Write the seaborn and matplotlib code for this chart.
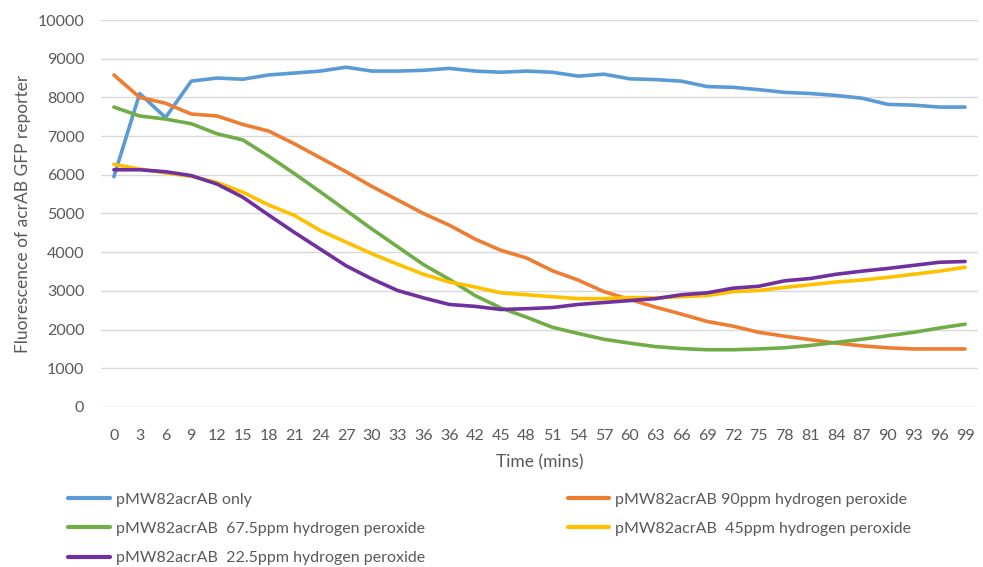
import pandas as pd
import seaborn as sns
import matplotlib.pyplot as plt

# x axis is categorical in the original (note the repeated "36" label)
time_labels = ['0', '3', '6', '9', '12', '15', '18', '21', '24', '27', '30', '33', '36', '36',
               '42', '45', '48', '51', '54', '57', '60', '63', '66', '69', '72', '75', '78',
               '81', '84', '87', '90', '93', '96', '99']

only = [5950, 8100, 7480, 8420, 8500, 8470, 8580, 8630, 8680, 8780, 8680, 8680, 8700, 8750,
        8680, 8650, 8680, 8650, 8550, 8600, 8480, 8460, 8420, 8280, 8260, 8200, 8130, 8100,
        8050, 7980, 7820, 7800, 7750, 7750]
ppm90 = [8580, 8000, 7850, 7570, 7520, 7300, 7130, 6800, 6440, 6080, 5700, 5350, 5000, 4700,
         4340, 4050, 3850, 3520, 3280, 2980, 2780, 2580, 2400, 2210, 2090, 1930, 1830, 1740,
         1650, 1580, 1530, 1500, 1500, 1500]
ppm675 = [7750, 7520, 7440, 7320, 7060, 6900, 6480, 6030, 5560, 5080, 4600, 4140, 3680, 3300,
          2880, 2560, 2320, 2060, 1900, 1750, 1650, 1560, 1510, 1480, 1480, 1500, 1530, 1590,
          1670, 1750, 1840, 1930, 2040, 2140]
ppm45 = [6270, 6150, 6050, 5960, 5800, 5550, 5220, 4950, 4560, 4260, 3960, 3690, 3430, 3230,
         3100, 2950, 2900, 2850, 2800, 2800, 2830, 2820, 2850, 2880, 2980, 3010, 3090, 3160,
         3230, 3280, 3350, 3430, 3510, 3610]
ppm225 = [6130, 6130, 6080, 5980, 5760, 5420, 4960, 4510, 4080, 3650, 3310, 3010, 2820, 2650,
          2600, 2520, 2540, 2570, 2650, 2700, 2750, 2800, 2900, 2950, 3070, 3120, 3260, 3320,
          3430, 3510, 3580, 3660, 3740, 3760]

names = ['pMW82acrAB only',
         'pMW82acrAB 90ppm hydrogen peroxide',
         'pMW82acrAB  67.5ppm hydrogen peroxide',
         'pMW82acrAB  45ppm hydrogen peroxide',
         'pMW82acrAB  22.5ppm hydrogen peroxide']
colors = ['#5B9BD5', '#ED7D31', '#70AD47', '#FFC000', '#7030A0']

frames = []
for name, vals in zip(names, [only, ppm90, ppm675, ppm45, ppm225]):
    frames.append(pd.DataFrame({'pos': range(len(time_labels)), 'value': vals, 'series': name}))
df = pd.concat(frames, ignore_index=True)

sns.set_theme(style='white')
plt.rcParams['font.family'] = ['Lato', 'DejaVu Sans']
txt = '#595959'

fig = plt.figure(figsize=(9.83, 5.67), dpi=100)
ax = fig.add_axes([101 / 983, 1 - 407 / 567, 877 / 983, 387 / 567])

sns.lineplot(data=df, x='pos', y='value', hue='series', hue_order=names,
             palette=colors, linewidth=2.6, ax=ax, legend=False)

ax.set_xlim(-0.5, len(time_labels) - 0.5)
ax.set_ylim(0, 10000)
ax.set_yticks(range(0, 10001, 1000))
ax.set_xticks(range(len(time_labels)))
ax.set_xticklabels(time_labels)
ax.tick_params(axis='both', length=0, labelsize=11.5, colors=txt)
ax.tick_params(axis='x', pad=16)
ax.tick_params(axis='y', pad=12)
ax.yaxis.grid(True, color='#D9D9D9', linewidth=1)
ax.set_axisbelow(True)
for s in ax.spines.values():
    s.set_visible(False)
ax.set_xlabel('Time (mins)', fontsize=12.5, color=txt, labelpad=8)
ax.set_ylabel('Fluorescence of acrAB GFP reporter', fontsize=12.5, color=txt, labelpad=5)

# legend: row-wise order in reference, matplotlib fills columns first
order = [0, 2, 4, 1, 3]
handles = [plt.Line2D([], [], color=colors[i], linewidth=3) for i in order]
labels = [names[i] for i in order]
leg = fig.legend(handles, labels, loc='upper left', bbox_to_anchor=(54 / 983, 1 - 478 / 567),
                 ncol=2, frameon=False, fontsize=11.5, handlelength=2.6, handletextpad=0.4,
                 columnspacing=8.9, labelspacing=0.95, labelcolor=txt)

fig.savefig('out.png', dpi=100)
